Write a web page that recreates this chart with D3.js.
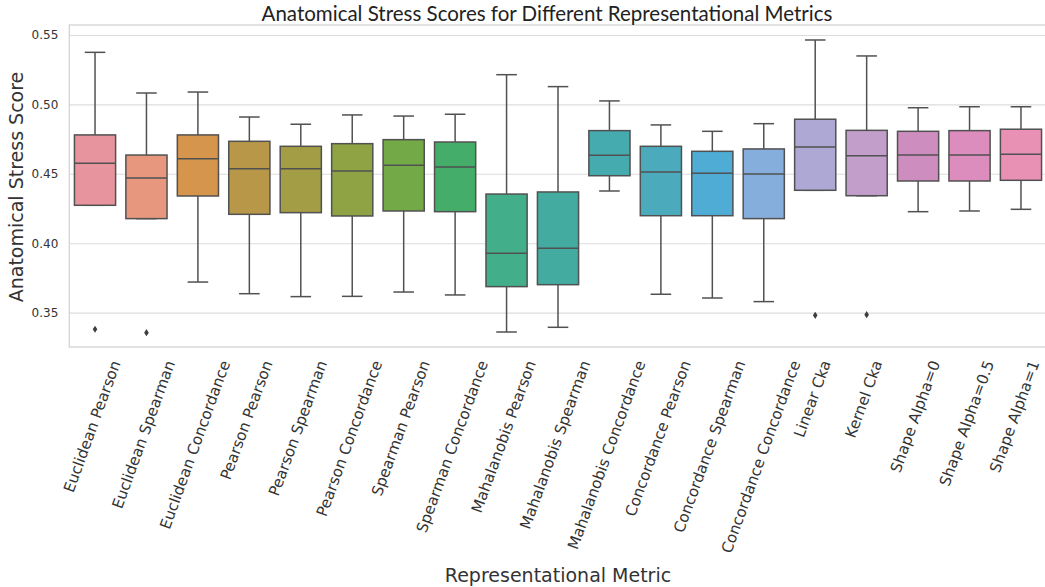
<!DOCTYPE html>
<html>
<head>
<meta charset="utf-8">
<script src="https://cdn.jsdelivr.net/npm/d3@7"></script>
<style>
  body { margin: 0; background: #fff; }
  svg { display: block; }
</style>
</head>
<body>
<svg width="1045" height="587"></svg>
<script>
  'use strict';
  // values
  const categories = [
    'Euclidean Pearson', 'Euclidean Spearman', 'Euclidean Concordance',
    'Pearson Pearson', 'Pearson Spearman', 'Pearson Concordance',
    'Spearman Pearson', 'Spearman Concordance',
    'Mahalanobis Pearson', 'Mahalanobis Spearman', 'Mahalanobis Concordance',
    'Concordance Pearson', 'Concordance Spearman', 'Concordance Concordance',
    'Linear Cka', 'Kernel Cka', 'Shape Alpha=0', 'Shape Alpha=0.5', 'Shape Alpha=1'
  ];
  const whiskerHigh = [0.5375, 0.5082, 0.5089, 0.4909, 0.4857, 0.4924, 0.4916, 0.4929, 0.5214, 0.5128,
                       0.5025, 0.4852, 0.4806, 0.4861, 0.5464, 0.5349, 0.4976, 0.4983, 0.4983];
  const q3 = [0.4780, 0.4635, 0.4780, 0.4734, 0.4698, 0.4717, 0.4746, 0.4729, 0.4354, 0.4369,
              0.4811, 0.4698, 0.4662, 0.4679, 0.4893, 0.4813, 0.4806, 0.4811, 0.4821];
  const medians = [0.4576, 0.4470, 0.4609, 0.4537, 0.4537, 0.4520, 0.4561, 0.4549, 0.3927, 0.3963,
                   0.4633, 0.4513, 0.4504, 0.4499, 0.4693, 0.4630, 0.4635, 0.4635, 0.4640];
  const q1 = [0.4273, 0.4177, 0.4340, 0.4208, 0.4220, 0.4196, 0.4232, 0.4227, 0.3687, 0.3701,
              0.4486, 0.4198, 0.4198, 0.4177, 0.4381, 0.4342, 0.4448, 0.4448, 0.4453];
  const whiskerLow = [0.4273, 0.4177, 0.3720, 0.3636, 0.3615, 0.3617, 0.3648, 0.3627, 0.3360, 0.3394,
                      0.4376, 0.3632, 0.3605, 0.3579, 0.4381, 0.4342, 0.4227, 0.4232, 0.4244];
  const outliers = [
    { cat: 'Euclidean Pearson', value: 0.3380 },
    { cat: 'Euclidean Spearman', value: 0.3355 },
    { cat: 'Linear Cka', value: 0.3480 },
    { cat: 'Kernel Cka', value: 0.3485 }
  ];
  const yTicks = [0.35, 0.40, 0.45, 0.50, 0.55];
  const colors = ['#e8949f', '#e8977f', '#d6954c', '#b89848', '#a39d45', '#8fa344', '#73aa47',
                  '#44ad69', '#42ae8a', '#43aba0', '#46abae', '#4babbc', '#4fadd5', '#86aedc',
                  '#aea8d4', '#c29eca', '#cd8dbe', '#dc8dbd', '#e891b5'];

  const boxes = categories.map((c, i) => ({
    cat: c, lo: whiskerLow[i], q1: q1[i], med: medians[i], q3: q3[i], hi: whiskerHigh[i], color: colors[i]
  }));

  const svg = d3.select('svg');
  const plotLeft = 69.3, plotRight = 1046.7, plotTop = 25, plotBottom = 347;
  const lineCol = '#515151';

  const x = d3.scaleBand().domain(categories).range([plotLeft, plotRight]).padding(0);
  const y = d3.scaleLinear().domain([0.3252, 0.5572]).range([plotBottom, plotTop]);

  // grid
  svg.append('g')
    .attr('transform', `translate(${plotLeft},0)`)
    .call(d3.axisLeft(y).tickValues(yTicks).tickSize(-(plotRight - plotLeft)).tickFormat(''))
    .call(g => g.select('.domain').remove())
    .call(g => g.selectAll('line').attr('stroke', '#dcdcdc').attr('stroke-width', 1.1));

  // frame
  svg.append('rect')
    .attr('x', plotLeft).attr('y', plotTop)
    .attr('width', plotRight - plotLeft).attr('height', plotBottom - plotTop)
    .attr('fill', 'none').attr('stroke', '#d3d3d3').attr('stroke-width', 1.3);

  // y tick labels
  svg.append('g')
    .attr('transform', `translate(${plotLeft},0)`)
    .call(d3.axisLeft(y).tickValues(yTicks).tickSize(0).tickPadding(11).tickFormat(d3.format('.2f')))
    .call(g => g.select('.domain').remove())
    .call(g => g.selectAll('text')
      .attr('font-family', 'DejaVu Sans').attr('font-size', 12).attr('fill', '#333'));

  const bw = x.bandwidth() * 0.8;
  const capW = bw / 2;

  const bg = svg.append('g').selectAll('g').data(boxes).join('g')
    .attr('transform', d => `translate(${x(d.cat) + x.bandwidth() / 2},0)`);

  // whiskers
  bg.append('line').attr('x1', 0).attr('x2', 0)
    .attr('y1', d => y(d.q3)).attr('y2', d => y(d.hi))
    .attr('stroke', lineCol).attr('stroke-width', 1.5);
  bg.append('line').attr('x1', 0).attr('x2', 0)
    .attr('y1', d => y(d.q1)).attr('y2', d => y(d.lo))
    .attr('stroke', lineCol).attr('stroke-width', 1.5);
  bg.append('line').attr('x1', -capW / 2).attr('x2', capW / 2)
    .attr('y1', d => y(d.hi)).attr('y2', d => y(d.hi))
    .attr('stroke', lineCol).attr('stroke-width', 1.5);
  bg.append('line').attr('x1', -capW / 2).attr('x2', capW / 2)
    .attr('y1', d => y(d.lo)).attr('y2', d => y(d.lo))
    .attr('stroke', lineCol).attr('stroke-width', 1.5);

  // boxes
  bg.append('rect')
    .attr('x', -bw / 2).attr('width', bw)
    .attr('y', d => y(d.q3)).attr('height', d => y(d.q1) - y(d.q3))
    .attr('fill', d => d.color).attr('stroke', lineCol).attr('stroke-width', 1.5);
  bg.append('line').attr('x1', -bw / 2).attr('x2', bw / 2)
    .attr('y1', d => y(d.med)).attr('y2', d => y(d.med))
    .attr('stroke', lineCol).attr('stroke-width', 1.5);

  // outliers (thin diamonds)
  svg.append('g').selectAll('path').data(outliers).join('path')
    .attr('transform', d => `translate(${x(d.cat) + x.bandwidth() / 2},${y(d.value)})`)
    .attr('d', 'M0,-3.6L2.3,0L0,3.6L-2.3,0Z')
    .attr('fill', '#3d3d3d');

  // x tick labels, rotated 70deg, bbox centred under the tick
  const theta = 70 * Math.PI / 180;
  const fs = 15.2;
  const lab = svg.append('g').selectAll('text').data(categories).join('text')
    .text(d => d)
    .attr('font-family', 'DejaVu Sans').attr('font-size', fs).attr('fill', '#333')
    .attr('text-anchor', 'middle').attr('dy', '0.35em');
  lab.each(function (d) {
    const L = this.getComputedTextLength();
    const h = fs * 1.17;
    const bh = L * Math.sin(theta) + h * Math.cos(theta);
    const bwid = L * Math.cos(theta) + h * Math.sin(theta);
    // keep the last label inside the window
    const cx = Math.min(x(d) + x.bandwidth() / 2 - 3, 1043 - bwid / 2);
    const cy = plotBottom + 11 + bh / 2;
    d3.select(this).attr('transform', `translate(${cx},${cy}) rotate(-70)`);
  });

  // axis titles
  svg.append('text')
    .attr('x', 558).attr('y', 582)
    .attr('text-anchor', 'middle')
    .attr('font-family', 'DejaVu Sans').attr('font-size', 19).attr('fill', '#333')
    .text('Representational Metric');
  svg.append('text')
    .attr('transform', 'translate(23,187) rotate(-90)')
    .attr('text-anchor', 'middle')
    .attr('font-family', 'DejaVu Sans').attr('font-size', 19).attr('fill', '#333')
    .text('Anatomical Stress Score');

  // title
  svg.append('text')
    .attr('x', 547).attr('y', 21)
    .attr('text-anchor', 'middle')
    .attr('font-family', 'Lato').attr('font-size', 20.5).attr('fill', '#222')
    .text('Anatomical Stress Scores for Different Representational Metrics');
</script>
</body>
</html>
